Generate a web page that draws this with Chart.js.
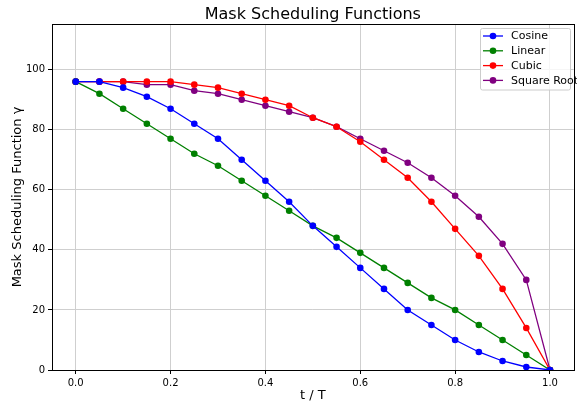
<!DOCTYPE html>
<html>
<head>
<meta charset="utf-8">
<script src="https://cdn.jsdelivr.net/npm/chart.js@4/dist/chart.umd.min.js"></script>
<style>
html,body{margin:0;padding:0;background:#fff;}
#wrap{width:577px;height:402px;}
</style>
</head>
<body>
<div id="wrap"><canvas id="c" width="577" height="402"></canvas></div>
<script>
const tValues = [0.0,0.05,0.1,0.15,0.2,0.25,0.3,0.35,0.4,0.45,0.5,0.55,0.6,0.65,0.7,0.75,0.8,0.85,0.9,0.95,1.0];
const cosineVals = [96,96,94,91,87,82,77,70,63,56,48,41,34,27,20,15,10,6,3,1,0];
const linearVals = [96,92,87,82,77,72,68,63,58,53,48,44,39,34,29,24,20,15,10,5,0];
const cubicVals  = [96,96,96,96,96,95,94,92,90,88,84,81,76,70,64,56,47,38,27,14,0];
const sqrtVals   = [96,96,96,95,95,93,92,90,88,86,84,81,77,73,69,64,58,51,42,30,0];
const seriesNames = ["Cosine","Linear","Cubic","Square Root"];
const seriesColors = ["#0000ff","#008000","#ff0000","#800080"];
const xTicks = [0.0,0.2,0.4,0.6,0.8,1.0];
const yTicks = [0,20,40,60,80,100];
const titleText = "Mask Scheduling Functions";
const xLabel = "t / T";
const yLabel = "Mask Scheduling Function \u03b3";

const FONT = "'DejaVu Sans', sans-serif";
const allVals = [cosineVals, linearVals, cubicVals, sqrtVals];
const datasets = allVals.map((vals, i) => ({
  label: seriesNames[i],
  data: tValues.map((t, j) => ({x: t, y: vals[j]})),
  borderColor: seriesColors[i],
  backgroundColor: seriesColors[i],
  borderWidth: 1.3,
  pointRadius: 3.3,
  pointHoverRadius: 3.3,
  pointBorderWidth: 0,
  tension: 0
}));

const decorPlugin = {
  id: 'decor',
  afterDraw(chart) {
    const ctx = chart.ctx, a = chart.chartArea;
    ctx.save();
    // frame
    ctx.strokeStyle = '#000';
    ctx.lineWidth = 1;
    ctx.strokeRect(Math.round(a.left) + 0.5, Math.round(a.top) + 0.5, Math.round(a.right - a.left), Math.round(a.bottom - a.top));
    // title
    ctx.fillStyle = '#000';
    ctx.font = "16px " + FONT;
    ctx.textAlign = 'center';
    ctx.textBaseline = 'alphabetic';
    ctx.fillText(titleText, (a.left + a.right) / 2, 19);
    // x label
    ctx.font = "13px " + FONT;
    ctx.fillText(xLabel, (a.left + a.right) / 2, 399);
    // y label
    ctx.save();
    ctx.translate(21, (a.top + a.bottom) / 2);
    ctx.rotate(-Math.PI / 2);
    ctx.textBaseline = 'alphabetic';
    ctx.fillText(yLabel, 0, 0);
    ctx.restore();
    // legend
    const lx = 480.5, ly = 28.5, lw = 90, lh = 61.5;
    ctx.fillStyle = 'rgba(255,255,255,0.8)';
    ctx.strokeStyle = '#cccccc';
    ctx.lineWidth = 1;
    ctx.beginPath();
    if (ctx.roundRect) ctx.roundRect(lx, ly, lw, lh, 2); else ctx.rect(lx, ly, lw, lh);
    ctx.fill();
    ctx.stroke();
    ctx.font = "11px " + FONT;
    ctx.textAlign = 'left';
    ctx.textBaseline = 'middle';
    seriesNames.forEach((n, i) => {
      const yy = 36 + i * 14.8;
      ctx.strokeStyle = seriesColors[i];
      ctx.lineWidth = 1.3;
      ctx.beginPath();
      ctx.moveTo(483, yy);
      ctx.lineTo(503, yy);
      ctx.stroke();
      ctx.fillStyle = seriesColors[i];
      ctx.beginPath();
      ctx.arc(493, yy, 3.3, 0, Math.PI * 2);
      ctx.fill();
      ctx.fillStyle = '#000';
      ctx.fillText(n, 511, yy + 0.5);
    });
    ctx.restore();
  }
};

new Chart(document.getElementById('c'), {
  type: 'line',
  data: { datasets },
  options: {
    responsive: false,
    animation: false,
    layout: { padding: { top: 24, right: 2, left: 0, bottom: 0 } },
    plugins: { legend: { display: false }, title: { display: false }, tooltip: { enabled: false } },
    scales: {
      x: {
        type: 'linear',
        min: -0.05,
        max: 1.05,
        afterBuildTicks: s => { s.ticks = xTicks.map(v => ({value: v})); },
        afterFit: s => { s.height = 32; },
        ticks: { callback: v => Number(v).toFixed(1), color: '#000', font: { family: FONT, size: 10 }, padding: 3, maxRotation: 0 },
        grid: { color: '#cfcfcf', lineWidth: 1, tickColor: '#000', tickLength: 4, drawOnChartArea: true },
        border: { display: false }
      },
      y: {
        type: 'linear',
        min: 0,
        max: 115.2,
        afterBuildTicks: s => { s.ticks = yTicks.map(v => ({value: v})); },
        afterFit: s => { s.width = 52; },
        ticks: { color: '#000', font: { family: FONT, size: 10 }, padding: 3 },
        grid: { color: '#cfcfcf', lineWidth: 1, tickColor: '#000', tickLength: 4 },
        border: { display: false }
      }
    }
  },
  plugins: [decorPlugin]
});
</script>
</body>
</html>
